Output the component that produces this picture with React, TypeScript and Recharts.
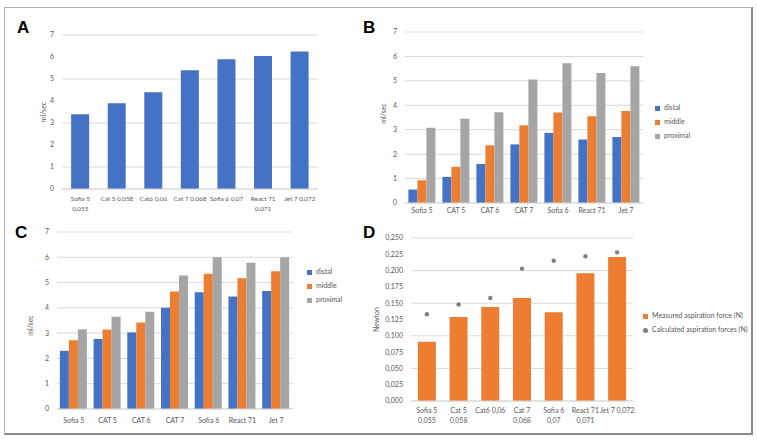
import {
  BarChart,
  Bar,
  ComposedChart,
  Scatter,
  XAxis,
  YAxis,
  CartesianGrid,
  Legend,
  Label,
} from "recharts";

const FONT = "Lato, 'Open Sans', sans-serif";
const TXT = "#595959";
const GRID = "#D9D9D9";
const BLUE = "#4472C4";
const ORANGE = "#ED7D31";
const GRAY = "#A5A5A5";
const DOT = "#7F7F7F";

// ---- data ----
// panel A: flow per catheter (ml/sec)
const aLabels = [
  "Sofia 5\n0,055",
  "Cat 5 0,058",
  "Cat6 0,06",
  "Cat 7 0,068",
  "Sofia 6 0,07",
  "React 71\n0,071",
  "Jet 7  0,072",
];
const aFlow = [3.4, 3.9, 4.4, 5.4, 5.9, 6.05, 6.25];

// panels B and C: flow at three positions
const bcLabels = ["Sofia 5", "CAT 5", "CAT 6", "CAT 7", "Sofia 6", "React 71", "Jet 7"];
const bDistal = [0.55, 1.07, 1.6, 2.4, 2.87, 2.6, 2.7];
const bMiddle = [0.93, 1.48, 2.36, 3.18, 3.7, 3.55, 3.77];
const bProximal = [3.08, 3.45, 3.72, 5.06, 5.72, 5.32, 5.6];

const cDistal = [2.3, 2.77, 3.03, 4.0, 4.62, 4.45, 4.67];
const cMiddle = [2.72, 3.14, 3.42, 4.65, 5.35, 5.17, 5.45];
const cProximal = [3.15, 3.65, 3.85, 5.28, 6.0, 5.78, 6.0];

const flowTicks = [0, 1, 2, 3, 4, 5, 6, 7];

// panel D: aspiration force (N)
const dLabels = [
  "Sofia 5\n0,055",
  "Cat 5\n0,058",
  "Cat6 0,06",
  "Cat 7\n0,068",
  "Sofia 6\n0,07",
  "React 71\n0,071",
  "Jet 7 0,072",
];
const dMeasured = [0.091, 0.129, 0.144, 0.158, 0.136, 0.196, 0.221];
const dCalculated = [0.133, 0.148, 0.158, 0.203, 0.215, 0.222, 0.228];
const forceTicks = [0, 0.025, 0.05, 0.075, 0.1, 0.125, 0.15, 0.175, 0.2, 0.225, 0.25];

const aData = aLabels.map((cat, i) => ({ cat, flow: aFlow[i] }));
const bData = bcLabels.map((cat, i) => ({
  cat,
  distal: bDistal[i],
  middle: bMiddle[i],
  proximal: bProximal[i],
}));
const cData = bcLabels.map((cat, i) => ({
  cat,
  distal: cDistal[i],
  middle: cMiddle[i],
  proximal: cProximal[i],
}));
const dData = dLabels.map((cat, i) => ({
  cat,
  measured: dMeasured[i],
  calculated: dCalculated[i],
}));

// legend keeps series order instead of sorting by name
const dOrder: Record<string, number> = { measured: 0, calculated: 1 };

// x tick that can break onto two lines; base = axis line -> first baseline
const makeTick = (base: number, lineH = 9.5, size = 7) => (props: any) => {
  const { x, y, payload } = props;
  const lines = String(payload.value).split("\n");
  return (
    <text x={x} y={y + base} textAnchor="middle" fill={TXT} fontSize={size} fontFamily={FONT}>
      {lines.map((l, i) => (
        <tspan key={i} x={x} dy={i === 0 ? 0 : lineH}>
          {l}
        </tspan>
      ))}
    </text>
  );
};

// rotated axis title, x is the baseline in chart coords
const yTitle = (text: string, x: number, dy = 0) => (props: any) => {
  const vb = props.viewBox || { y: 0, height: 0 };
  const cy = vb.y + vb.height / 2 + dy;
  return (
    <text
      x={x}
      y={cy}
      transform={`rotate(-90 ${x} ${cy})`}
      textAnchor="middle"
      fill={TXT}
      fontSize={7}
      fontFamily={FONT}
    >
      {text}
    </text>
  );
};

const tickStyle = { fill: TXT, fontSize: 7, fontFamily: FONT };
const legendText = (v: any) => <span style={{ color: TXT }}>{v}</span>;
const legendWrap = (left: number, top: number) => ({
  left,
  top,
  width: 130,
  fontSize: 7,
  fontFamily: FONT,
  lineHeight: "14px",
});

const fmtForce = (v: number) => v.toFixed(3).replace(".", ",");

const Dot = (p: any) => <circle cx={p.cx} cy={p.cy} r={2.2} fill={DOT} />;

export default function App() {
  return (
    <div
      style={{
        position: "absolute",
        left: 0,
        top: 0,
        width: 757,
        height: 441,
        background: "#fff",
        fontFamily: FONT,
      }}
    >
      {/* frame */}
      <div
        style={{
          position: "absolute",
          left: 4,
          top: 7,
          width: 746,
          height: 425,
          borderTop: "1px solid #b0b0b0",
          borderLeft: "1px solid #b0b0b0",
          borderRight: "2px solid #8a8a8a",
          borderBottom: "2px solid #8a8a8a",
        }}
      />

      {/* A */}
      <div style={{ position: "absolute", left: 0, top: 0 }}>
        <BarChart
          width={380}
          height={220}
          data={aData}
          margin={{ top: 35, right: 62, bottom: 6, left: 22 }}
          barCategoryGap="25%"
        >
          <CartesianGrid vertical={false} stroke={GRID} />
          <XAxis
            dataKey="cat"
            height={25}
            interval={0}
            tickLine={false}
            tickSize={0}
            tickMargin={0}
            stroke={GRID}
            tick={makeTick(12, 10, 6.4)}
          />
          <YAxis
            width={40}
            domain={[0, 7]}
            ticks={flowTicks}
            axisLine={false}
            tickLine={false}
            tick={tickStyle}
          >
            <Label content={yTitle("ml/sec", 45.5)} />
          </YAxis>
          <Bar dataKey="flow" fill={BLUE} isAnimationActive={false} />
        </BarChart>
      </div>

      {/* B */}
      <div style={{ position: "absolute", left: 370, top: 0 }}>
        <BarChart
          width={387}
          height={220}
          data={bData}
          margin={{ top: 32, right: 114, bottom: 3, left: 5 }}
          barCategoryGap="10%"
          barGap={0}
        >
          <CartesianGrid vertical={false} stroke={GRID} />
          <XAxis
            dataKey="cat"
            height={14}
            interval={0}
            tickLine={false}
            tickSize={0}
            tickMargin={0}
            stroke={GRID}
            tick={makeTick(9.5)}
          />
          <YAxis
            width={30}
            domain={[0, 7]}
            ticks={flowTicks}
            axisLine={false}
            tickLine={false}
            tick={tickStyle}
          >
            <Label content={yTitle("ml/sec", 15.5, -4)} />
          </YAxis>
          <Legend
            layout="vertical"
            align="center"
            verticalAlign="middle"
            iconType="square"
            iconSize={5}
            formatter={legendText}
            wrapperStyle={legendWrap(285, 100)}
          />
          <Bar dataKey="distal" name="distal" fill={BLUE} isAnimationActive={false} />
          <Bar dataKey="middle" name="middle" fill={ORANGE} isAnimationActive={false} />
          <Bar dataKey="proximal" name="proximal" fill={GRAY} isAnimationActive={false} />
        </BarChart>
      </div>

      {/* C */}
      <div style={{ position: "absolute", left: 0, top: 210 }}>
        <BarChart
          width={380}
          height={231}
          data={cData}
          margin={{ top: 22, right: 87, bottom: 18, left: 27 }}
          barCategoryGap="8.5%"
          barGap={0}
        >
          <CartesianGrid vertical={false} stroke={GRID} />
          <XAxis
            dataKey="cat"
            height={14}
            interval={0}
            tickLine={false}
            tickSize={0}
            tickMargin={0}
            stroke={GRID}
            tick={makeTick(13.5)}
          />
          <YAxis
            width={30}
            domain={[0, 7]}
            ticks={flowTicks}
            axisLine={false}
            tickLine={false}
            tick={tickStyle}
          >
            <Label content={yTitle("ml/sec", 32.5, 5)} />
          </YAxis>
          <Legend
            layout="vertical"
            align="center"
            verticalAlign="middle"
            iconType="square"
            iconSize={5}
            formatter={legendText}
            wrapperStyle={legendWrap(307, 54)}
          />
          <Bar dataKey="distal" name="distal" fill={BLUE} isAnimationActive={false} />
          <Bar dataKey="middle" name="middle" fill={ORANGE} isAnimationActive={false} />
          <Bar dataKey="proximal" name="proximal" fill={GRAY} isAnimationActive={false} />
        </BarChart>
      </div>

      {/* D */}
      <div style={{ position: "absolute", left: 370, top: 210 }}>
        <ComposedChart
          width={387}
          height={231}
          data={dData}
          margin={{ top: 28, right: 124, bottom: 15, left: 6 }}
          barCategoryGap="21.6%"
        >
          <CartesianGrid vertical={false} stroke={GRID} />
          <XAxis
            dataKey="cat"
            height={25}
            interval={0}
            tickLine={false}
            tickSize={0}
            tickMargin={0}
            stroke={GRID}
            tick={makeTick(12.2, 9.3)}
          />
          <YAxis
            width={35}
            domain={[0, 0.25]}
            ticks={forceTicks}
            tickFormatter={fmtForce}
            axisLine={false}
            tickLine={false}
            tick={tickStyle}
          >
            <Label content={yTitle("Newton", 8.5)} />
          </YAxis>
          <Legend
            layout="vertical"
            align="center"
            verticalAlign="middle"
            iconSize={5}
            formatter={legendText}
            itemSorter={(item: any) => dOrder[String(item.dataKey)] ?? 0}
            wrapperStyle={legendWrap(273, 98)}
          />
          <Bar
            dataKey="measured"
            name="Measured aspiration force (N)"
            fill={ORANGE}
            legendType="square"
            isAnimationActive={false}
          />
          <Scatter
            dataKey="calculated"
            name="Calculated aspiration forces (N)"
            fill={DOT}
            legendType="circle"
            shape={Dot}
            isAnimationActive={false}
          />
        </ComposedChart>
      </div>

      {/* panel letters */}
      <svg
        width={757}
        height={441}
        style={{ position: "absolute", left: 0, top: 0, pointerEvents: "none" }}
      >
        {[
          ["A", 17, 33],
          ["B", 363, 33],
          ["C", 15, 238],
          ["D", 363, 238],
        ].map(([t, x, y]) => (
          <text
            key={t as string}
            x={x as number}
            y={y as number}
            fontSize={17}
            fontWeight="bold"
            fontFamily="'Liberation Sans', Arial, sans-serif"
            fill="#000"
          >
            {t}
          </text>
        ))}
      </svg>
    </div>
  );
}
